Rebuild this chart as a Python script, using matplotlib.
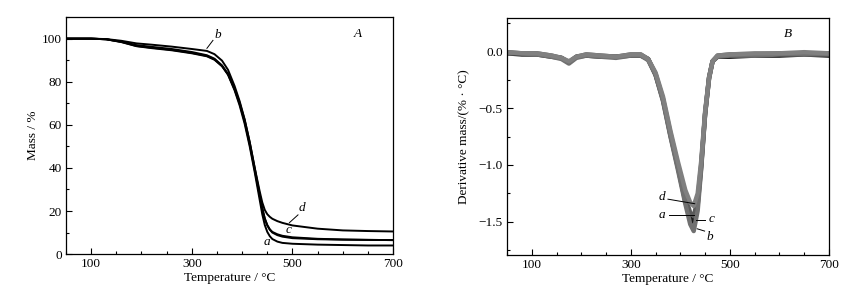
import matplotlib
matplotlib.use("Agg")
import matplotlib.pyplot as plt
from matplotlib.ticker import MultipleLocator

plt.rcParams['font.family'] = ['Liberation Serif', 'DejaVu Serif']
plt.rcParams['font.size'] = 9.5

# TG curves (mass %)
tg_temp = [50, 100, 130, 160, 190, 220, 260, 300, 330, 345, 360, 372, 385, 395, 405,
           415, 425, 435, 440, 445, 450, 455, 460, 470, 480, 500, 550, 600, 650, 700]
tg_a = [100, 100, 99.7, 98.5, 96.6, 95.8, 94.8, 93.4, 92.0, 90.4, 87.3, 83.2, 76.0, 69.0, 60.5,
        50.0, 38.0, 25.0, 18.5, 13.5, 10.3, 8.3, 7.0, 5.8, 5.2, 4.8, 4.4, 4.2, 4.0, 4.0]
tg_b = [100, 100, 99.8, 99.0, 97.8, 97.2, 96.3, 95.2, 94.3, 92.8, 89.8, 85.5, 78.0, 71.0, 62.5,
        52.0, 40.0, 27.5, 21.5, 16.5, 13.3, 11.3, 10.0, 8.8, 8.1, 7.4, 6.9, 6.7, 6.6, 6.5]
tg_c = [100, 100, 99.7, 98.6, 97.0, 96.2, 95.2, 93.8, 92.3, 90.7, 87.6, 83.6, 76.5, 69.8, 61.5,
        51.0, 39.0, 27.0, 21.0, 16.5, 13.5, 11.5, 10.3, 9.2, 8.5, 7.8, 7.1, 6.8, 6.6, 6.5]
tg_d = [100, 100, 99.7, 98.4, 96.5, 95.6, 94.6, 93.2, 91.8, 90.2, 87.2, 83.4, 76.8, 70.3, 62.3,
        52.0, 40.0, 29.0, 24.0, 20.5, 18.5, 17.3, 16.4, 15.3, 14.5, 13.3, 11.8, 11.0, 10.7, 10.5]

# DTG curves (%/°C)
dtg_temp = [50, 80, 110, 140, 160, 175, 190, 210, 240, 270, 300, 320, 335, 350, 365,
            380, 395, 410, 420, 427, 435, 442, 450, 458, 465, 475, 500, 550, 600, 650, 700]
dtg_a = [-0.01, -0.02, -0.02, -0.04, -0.06, -0.10, -0.05, -0.03, -0.04, -0.05, -0.03, -0.03,
         -0.07, -0.20, -0.42, -0.72, -1.00, -1.28, -1.42, -1.45, -1.30, -1.00, -0.55, -0.24,
         -0.09, -0.04, -0.03, -0.03, -0.02, -0.02, -0.02]
dtg_b = [-0.02, -0.02, -0.03, -0.05, -0.07, -0.11, -0.06, -0.04, -0.05, -0.06, -0.04, -0.04,
         -0.08, -0.21, -0.44, -0.75, -1.04, -1.34, -1.52, -1.58, -1.40, -1.04, -0.56, -0.24,
         -0.09, -0.05, -0.04, -0.04, -0.03, -0.03, -0.03]
dtg_c = [-0.02, -0.03, -0.03, -0.05, -0.06, -0.10, -0.05, -0.04, -0.05, -0.05, -0.04, -0.04,
         -0.07, -0.21, -0.43, -0.74, -1.02, -1.32, -1.47, -1.50, -1.35, -1.02, -0.55, -0.23,
         -0.09, -0.05, -0.05, -0.04, -0.04, -0.03, -0.04]
dtg_d = [-0.01, -0.02, -0.02, -0.04, -0.06, -0.09, -0.05, -0.03, -0.04, -0.05, -0.03, -0.03,
         -0.07, -0.19, -0.40, -0.70, -0.97, -1.22, -1.33, -1.36, -1.25, -0.97, -0.53, -0.23,
         -0.09, -0.04, -0.03, -0.02, -0.02, -0.01, -0.02]

fig = plt.figure(figsize=(8.63, 3.0), dpi=100)
axA = fig.add_axes([0.0765, 0.153, 0.379, 0.79])
axB = fig.add_axes([0.5875, 0.150, 0.373, 0.79])


def style(ax):
    ax.xaxis.set_major_locator(MultipleLocator(200))
    ax.xaxis.set_minor_locator(MultipleLocator(50))
    ax.tick_params(which='both', direction='in', top=False, right=False)
    ax.tick_params(which='major', length=4, width=0.8, pad=3)
    ax.tick_params(which='minor', length=2.5, width=0.8)
    for s in ax.spines.values():
        s.set_linewidth(0.9)
    ax.set_xlim(50, 700)
    ax.set_xlabel('Temperature / °C', labelpad=1)


# panel A
for y in (tg_a, tg_b, tg_c, tg_d):
    axA.plot(tg_temp, y, color='black', lw=1.4)
style(axA)
axA.set_xticks([100, 300, 500, 700])
axA.set_ylim(0, 110)
axA.yaxis.set_major_locator(MultipleLocator(20))
axA.yaxis.set_minor_locator(MultipleLocator(10))
axA.set_ylabel('Mass / %', labelpad=2)
axA.text(630, 102, 'A', style='italic', ha='center', va='center')
axA.text(352, 101.5, 'b', style='italic', ha='center', va='center')
axA.plot([342, 330], [99.2, 95.5], color='black', lw=0.7)
axA.text(518, 21.5, 'd', style='italic', ha='center', va='center')
axA.plot([511, 494], [18.2, 14.6], color='black', lw=0.7)
axA.text(492, 11.2, 'c', style='italic', ha='center', va='center')
axA.text(449, 5.4, 'a', style='italic', ha='center', va='center')

# panel B
for y, col in ((dtg_c, '#1a1a1a'), (dtg_a, '#5a5a5a'), (dtg_b, '#707070'), (dtg_d, '#808080')):
    axB.plot(dtg_temp, y, color=col, lw=3.2, solid_joinstyle='round')
style(axB)
axB.set_xticks([100, 300, 500, 700])
axB.set_ylim(-1.79, 0.29)
axB.yaxis.set_major_locator(MultipleLocator(0.5))
axB.yaxis.set_minor_locator(MultipleLocator(0.25))
axB.yaxis.set_major_formatter(matplotlib.ticker.FuncFormatter(
    lambda v, p: '{:.1f}'.format(v).replace('-', '\u2212')))
axB.set_ylabel('Derivative mass/(% · °C)', labelpad=6)
axB.text(617, 0.15, 'B', style='italic', ha='center', va='center')
axB.text(363, -1.28, 'd', style='italic', ha='center', va='center')
axB.plot([375, 429], [-1.30, -1.34], color='black', lw=0.7)
axB.text(363, -1.44, 'a', style='italic', ha='center', va='center')
axB.plot([378, 427], [-1.44, -1.44], color='black', lw=0.7)
axB.text(463, -1.47, 'c', style='italic', ha='center', va='center')
axB.plot([449, 431], [-1.485, -1.485], color='black', lw=0.7)
axB.text(459, -1.63, 'b', style='italic', ha='center', va='center')
axB.plot([449, 434], [-1.58, -1.56], color='black', lw=0.7)

fig.savefig('out.png', dpi=100)
